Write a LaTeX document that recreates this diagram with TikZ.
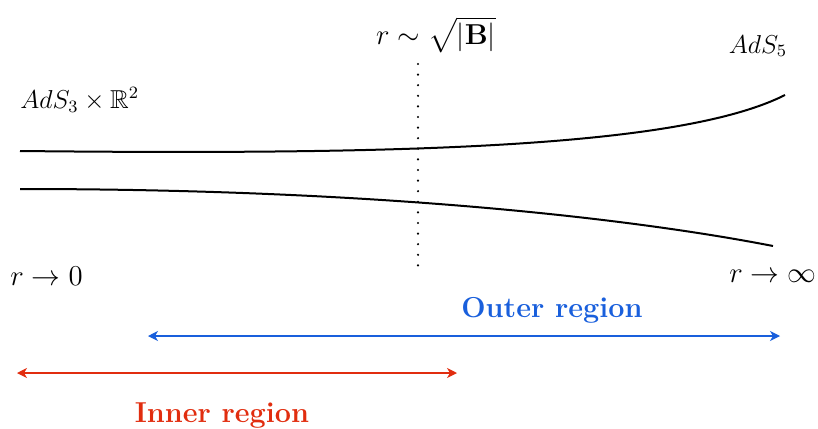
\documentclass[tikz,border=0pt]{standalone}
\usepackage{amsmath,amssymb}
\usepackage{tikz}
\usetikzlibrary{arrows.meta,positioning,calc}
\usepackage{xcolor}
\definecolor{outercol}{RGB}{25,95,220}
\definecolor{innercol}{RGB}{225,45,15}
\tikzset{
  % geometry curve
  curve/.style={line width=1pt, black},
  % region arrow (two-headed)
  regionarrow/.style={{Stealth[length=5pt,width=5pt,inset=1.5pt]}-{Stealth[length=5pt,width=5pt,inset=1.5pt]}, line width=0.6pt, #1},
  regionarrow/.default={black},
  % region label
  reglabel/.style={font=\Large\bfseries, text=#1, inner sep=0pt},
  reglabel/.default={black},
  % limit / space label
  limlabel/.style={font=\Large, inner sep=0pt},
  spacelabel/.style={font=\large, scale=1.08, inner sep=0pt},
}
\begin{document}
\begin{tikzpicture}[x=0.5pt, y=-0.5pt]
  \useasboundingbox (0,0) rectangle (818,428);

  % the two boundary curves
  \coordinate (upL) at (20,151);
  \coordinate (upR) at (785,95);
  \coordinate (loL) at (20,189);
  \coordinate (loR) at (773,246);
  \draw[curve] (upL) .. controls (400,155) and (680,148) .. (upR);
  \draw[curve] (loL) .. controls (400,189) and (650,222) .. (loR);

  % crossover scale
  \coordinate (dotT) at (418,64);
  \coordinate (dotB) at (418,268);
  \draw[line width=1.2pt, dash pattern=on 0pt off 5.3pt, line cap=round] (dotT) -- (dotB);
  \node[limlabel] (scale) at (436,35) {$r\sim\sqrt{|\mathbf{B}|}$};

  % labels of the ends
  \node[spacelabel, anchor=west] (ads3) at (20,100) {$AdS_3\times\mathbb{R}^2$};
  \node[spacelabel] (ads5) at (758,46) {$AdS_5$};
  \node[limlabel, anchor=west] (rzero) at (10,276) {$r\rightarrow 0$};
  \node[limlabel, anchor=west] (rinf) at (729,276) {$r\rightarrow\infty$};

  % outer region
  \coordinate (outL) at (148,336);
  \coordinate (outR) at (780,336);
  \draw[regionarrow=outercol] (outL) -- (outR);
  \node[reglabel=outercol] (outer) at (552,310) {Outer region};

  % inner region
  \coordinate (inL) at (17,373);
  \coordinate (inR) at (457,373);
  \draw[regionarrow=innercol] (inL) -- (inR);
  \node[reglabel=innercol] (inner) at (222,416) {Inner region};
\end{tikzpicture}
\end{document}
